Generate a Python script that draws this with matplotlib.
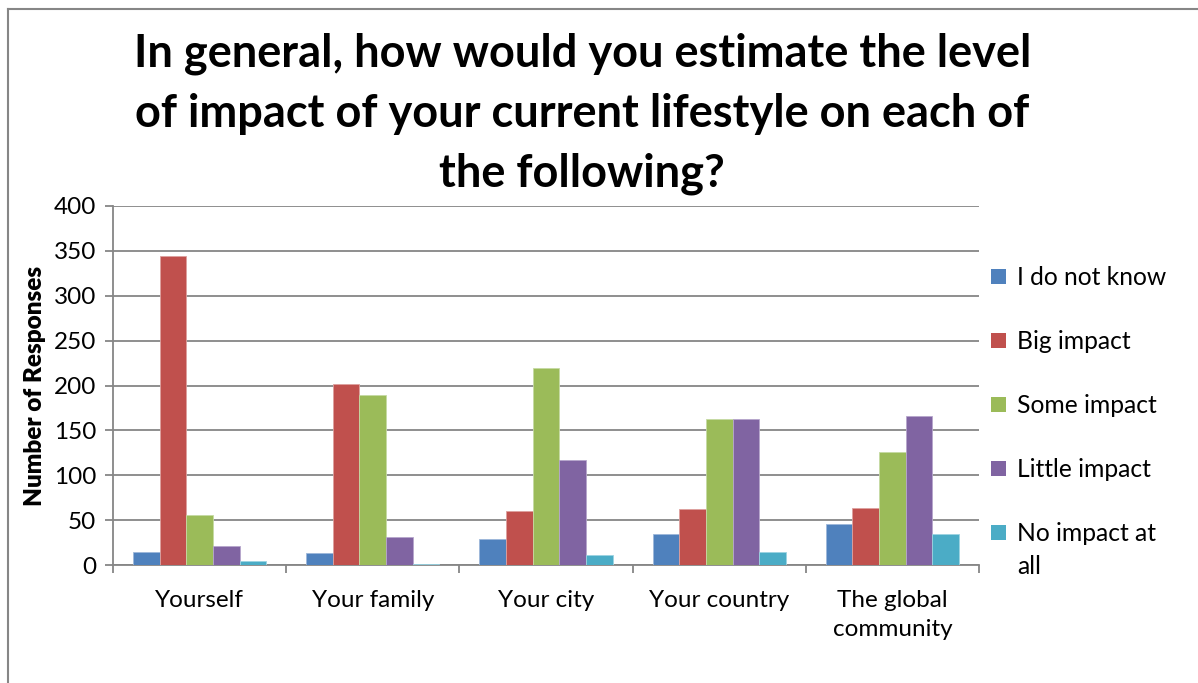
import numpy as np
import matplotlib.pyplot as plt
from matplotlib.lines import Line2D
from matplotlib.patches import Patch, Rectangle
from matplotlib.legend_handler import HandlerPatch

plt.rcParams['font.family'] = ['Lato', 'DejaVu Sans']

# survey answers per target group
categories = ["Yourself", "Your family", "Your city", "Your country", "The global\ncommunity"]
series_names = ["I do not know", "Big impact", "Some impact", "Little impact", "No impact at\nall"]
dont_know = [14, 13, 29, 35, 46]
big_impact = [344, 202, 60, 62, 64]
some_impact = [56, 189, 220, 163, 126]
little_impact = [21, 31, 117, 163, 166]
no_impact = [4, 1, 11, 15, 34]

series = [dont_know, big_impact, some_impact, little_impact, no_impact]
colors = ["#4F81BD", "#C0504D", "#9BBB59", "#8064A2", "#4BACC6"]
edges = ["#9DB7DA", "#DDA09E", "#C6DAA3", "#B6A6CC", "#9CD3E1"]

grey = "#868686"


class FirstLineHandler(HandlerPatch):
    """Square key lifted up to sit next to the first line of a two-line label."""
    def __init__(self, shift, **kw):
        super().__init__(**kw)
        self.shift = shift

    def create_artists(self, legend, orig_handle, xdescent, ydescent,
                       width, height, fontsize, trans):
        p = Rectangle((-xdescent, -ydescent + self.shift * fontsize), width, height,
                      facecolor=orig_handle.get_facecolor(), edgecolor='none',
                      transform=trans)
        return [p]


fig = plt.figure(figsize=(11.98, 6.83), dpi=100)
ax = fig.add_axes([113 / 1198, 1 - 565 / 683, 866 / 1198, 359 / 683])

x = np.arange(len(categories))
w = 1 / 6.5
for i, (vals, c, ec) in enumerate(zip(series, colors, edges)):
    ax.bar(x - 2 * w + i * w, vals, width=w, color=c, edgecolor=ec,
           linewidth=0.6, label=series_names[i], zorder=3)

ax.set_xlim(-0.5, len(categories) - 0.5)
ax.set_ylim(0, 400)
ax.set_yticks(np.arange(0, 401, 50))
ax.yaxis.grid(True, color=grey, linewidth=1.3, zorder=0)
ax.set_axisbelow(True)

# category labels centred, tick marks on the group boundaries
ax.set_xticks(x)
ax.set_xticklabels(categories, fontsize=17.5, linespacing=1.45)
ax.set_xticks(np.arange(-0.5, len(categories), 1), minor=True)
ax.tick_params(axis='x', which='major', length=0, pad=18)
ax.tick_params(axis='x', which='minor', length=6, width=1.3, color=grey, direction='out')
ax.tick_params(axis='y', length=6, width=1.3, color=grey, labelsize=17.5, pad=6)

for s in ['top', 'right']:
    ax.spines[s].set_visible(False)
for s in ['left', 'bottom']:
    ax.spines[s].set_color(grey)
    ax.spines[s].set_linewidth(1.3)

ax.set_ylabel("Number of Responses", fontsize=17.5, fontweight='heavy', labelpad=6)

fig.text(0.486, 1 - 114 / 683,
         "In general, how would you estimate the level\nof impact of your current lifestyle on each of\nthe following?",
         ha='center', va='center', fontsize=32.5, fontweight='bold', linespacing=1.52)

handles = [Patch(facecolor=c, edgecolor='none') for c in colors]
leg = fig.legend(handles, series_names, loc='upper left',
                 bbox_to_anchor=(991 / 1198, 1 - 266 / 683), frameon=False,
                 fontsize=17.7, handlelength=0.6, handleheight=0.6, handletextpad=0.45,
                 labelspacing=1.67, borderaxespad=0, borderpad=0,
                 handler_map={handles[-1]: FirstLineHandler(0.75)})
for t in leg.get_texts():
    t.set_linespacing(1.5)

# chart frame
fig.add_artist(Line2D([8 / 1198, 1], [1 - 9 / 683, 1 - 9 / 683], color=grey, linewidth=1.5))
fig.add_artist(Line2D([8 / 1198, 8 / 1198], [0, 1 - 9 / 683], color=grey, linewidth=1.5))

fig.savefig("out.png", dpi=100)
